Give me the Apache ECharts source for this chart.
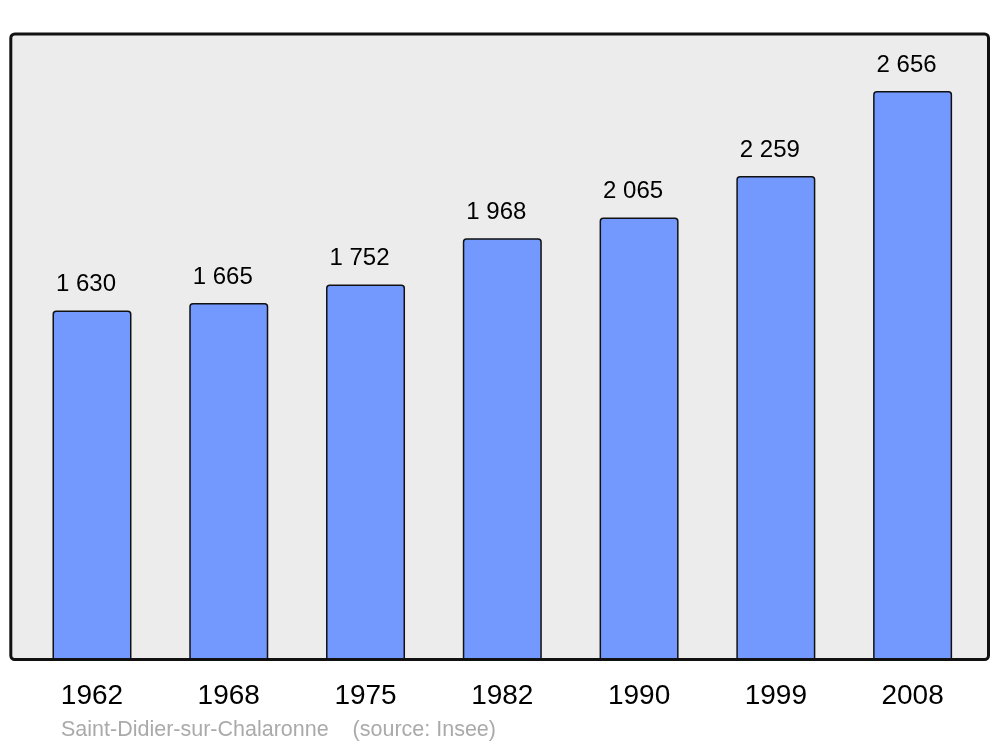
<!DOCTYPE html>
<html>
<head>
<meta charset="utf-8">
<script src="https://cdn.jsdelivr.net/npm/echarts@6/dist/echarts.min.js"></script>
<style>
  html, body { margin: 0; padding: 0; background: #fff; }
  #chart { width: 1000px; height: 747px; }
</style>
</head>
<body>
<div id="chart"></div>
<script>
  // données
  var years = ['1962', '1968', '1975', '1982', '1990', '1999', '2008'];
  var population = [1630, 1665, 1752, 1968, 2065, 2259, 2656];
  var footerText = 'Saint-Didier-sur-Chalaronne    (source: Insee)';

  var chart = echarts.init(document.getElementById('chart'));

  // nombre avec espace pour les milliers
  function fmt(v) {
    return String(v).replace(/\B(?=(\d{3})+(?!\d))/g, ' ');
  }

  chart.setOption({
    animation: false,
    textStyle: { fontFamily: 'Liberation Sans, Arial, sans-serif' },
    graphic: [
      {
        type: 'rect',
        z: -10,
        shape: { x: 10.8, y: 34, width: 977.7, height: 625.5, r: 4 },
        style: { fill: '#ececec', stroke: '#111', lineWidth: 3 }
      },
      {
        type: 'text',
        left: 61,
        top: 719,
        style: {
          text: footerText,
          fill: '#aaaaaa',
          font: '21.5px "Liberation Sans", Arial, sans-serif'
        }
      }
    ],
    grid: {
      left: 23.6,
      right: 19,
      top: 34,
      bottom: 87.5
    },
    xAxis: {
      type: 'category',
      data: years,
      axisLine: { show: false },
      axisTick: { show: false },
      axisLabel: {
        color: '#000',
        fontSize: 28,
        margin: 23
      }
    },
    yAxis: {
      type: 'value',
      min: 0,
      max: 2922,
      show: false,
      splitLine: { show: false }
    },
    series: [{
      type: 'bar',
      data: population,
      barWidth: 79,
      itemStyle: {
        color: '#7399ff',
        borderColor: '#111',
        borderWidth: 1.5,
        borderRadius: [3, 3, 0, 0]
      },
      label: {
        show: true,
        position: 'top',
        distance: 14,
        offset: [-6, 0],
        color: '#000',
        fontSize: 24,
        formatter: function (p) { return fmt(p.value); }
      }
    }]
  });
</script>
</body>
</html>
